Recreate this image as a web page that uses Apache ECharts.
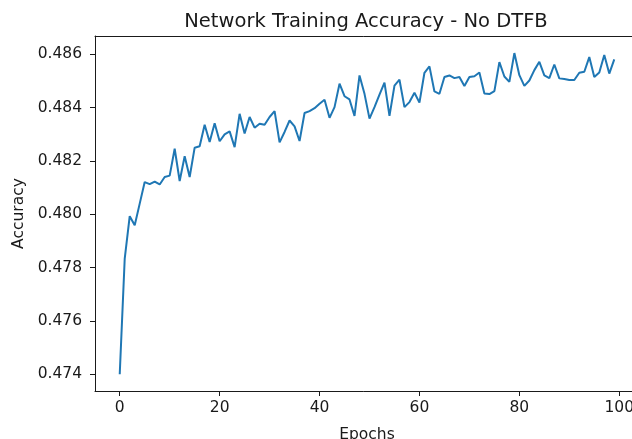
<!DOCTYPE html>
<html>
<head>
<meta charset="utf-8">
<script src="https://cdn.jsdelivr.net/npm/echarts@6/dist/echarts.min.js"></script>
<style>
html,body{margin:0;padding:0;background:#fff;}
#chart{width:632px;height:439px;}
</style>
</head>
<body>
<div id="chart"></div>
<script>
const epochs = [];
for (let i = 0; i < 100; i++) epochs.push(i);

const accuracy = [
  0.47400, 0.47834, 0.47993, 0.47959, 0.48040, 0.48121, 0.48113, 0.48123, 0.48112, 0.48140,
  0.48145, 0.48246, 0.48125, 0.48218, 0.48140, 0.48250, 0.48255, 0.48336, 0.48271, 0.48342,
  0.48274, 0.48300, 0.48311, 0.48252, 0.48377, 0.48303, 0.48365, 0.48325, 0.48340, 0.48336,
  0.48365, 0.48387, 0.48270, 0.48309, 0.48352, 0.48330, 0.48275, 0.48380, 0.48387, 0.48398,
  0.48415, 0.48430, 0.48362, 0.48402, 0.48490, 0.48443, 0.48431, 0.48369, 0.48521, 0.48452,
  0.48359, 0.48402, 0.48449, 0.48494, 0.48369, 0.48483, 0.48505, 0.48402, 0.48421, 0.48456,
  0.48419, 0.48531, 0.48555, 0.48461, 0.48452, 0.48515, 0.48521, 0.48511, 0.48515, 0.48481,
  0.48515, 0.48518, 0.48532, 0.48453, 0.48451, 0.48462, 0.48571, 0.48517, 0.48497, 0.48605,
  0.48522, 0.48482, 0.48502, 0.48541, 0.48572, 0.48521, 0.48511, 0.48562, 0.48510, 0.48508,
  0.48504, 0.48504, 0.48531, 0.48535, 0.48590, 0.48515, 0.48532, 0.48598, 0.48528, 0.48581
];

const xTicks = [0, 20, 40, 60, 80, 100];
const yTicks = [0.474, 0.476, 0.478, 0.480, 0.482, 0.484, 0.486];

const titleText = 'Network Training Accuracy - No DTFB';
const xName = 'Epochs';
const yName = 'Accuracy';

const FONT = 'DejaVu Sans';
const INK = '#1a1a1a';
const TICK_FS = 15.5;

const chart = echarts.init(document.getElementById('chart'), null, {renderer: 'canvas'});
chart.setOption({
  animation: false,
  backgroundColor: '#ffffff',
  title: {
    text: titleText,
    left: 361,
    textAlign: 'center',
    top: 7,
    textStyle: {fontFamily: FONT, fontSize: 19.5, fontWeight: 'normal', color: INK}
  },
  grid: {
    left: 95, top: 36, width: 544, height: 355,
    show: false,
    containLabel: false,
    outerBoundsMode: 'none'
  },
  xAxis: [{
    type: 'value',
    min: -4.95,
    max: 103.95,
    name: xName,
    nameLocation: 'middle',
    nameGap: 36,
    nameTextStyle: {fontFamily: FONT, fontSize: TICK_FS, color: INK},
    axisLine: {show: true, onZero: false, lineStyle: {color: INK, width: 1}},
    axisTick: {show: true, inside: false, length: 5, customValues: xTicks, lineStyle: {color: INK, width: 1}},
    axisLabel: {show: true, margin: 9, customValues: xTicks, fontFamily: FONT, fontSize: TICK_FS, color: INK,
      formatter: v => String(v)},
    splitLine: {show: false}
  }, {
    type: 'value',
    position: 'top',
    min: -4.95,
    max: 103.95,
    axisLine: {show: true, onZero: false, lineStyle: {color: INK, width: 1}},
    axisTick: {show: false},
    axisLabel: {show: false},
    splitLine: {show: false}
  }],
  yAxis: {
    type: 'value',
    min: 0.47337,
    max: 0.48669,
    name: yName,
    nameLocation: 'middle',
    nameGap: 68,
    nameRotate: 90,
    nameTextStyle: {fontFamily: FONT, fontSize: TICK_FS, color: INK},
    axisLine: {show: true, onZero: false, lineStyle: {color: INK, width: 1}},
    axisTick: {show: true, inside: false, length: 5, customValues: yTicks, lineStyle: {color: INK, width: 1}},
    axisLabel: {show: true, margin: 13, customValues: yTicks, fontFamily: FONT, fontSize: TICK_FS, color: INK,
      formatter: v => v.toFixed(3)},
    splitLine: {show: false}
  },
  series: [{
    type: 'line',
    xAxisIndex: 0,
    data: epochs.map((e, i) => [e, accuracy[i]]),
    showSymbol: false,
    symbol: 'none',
    lineStyle: {color: '#1f77b4', width: 2},
    itemStyle: {color: '#1f77b4'},
    clip: false
  }]
});
</script>
</body>
</html>
